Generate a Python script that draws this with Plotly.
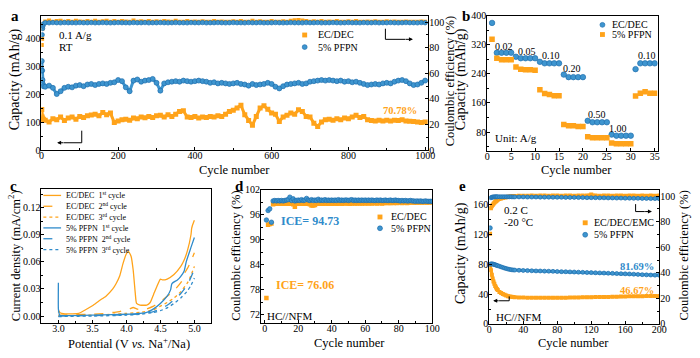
import plotly.graph_objects as go

# ---------------- data ----------------
# panel a (cycles sampled every 10 plus the first five)
cyc_a = [1, 2, 3, 4, 5] + list(range(10, 1001, 10))
cap_a_ecdec = [145, 118, 112, 108, 110,
    106, 100, 112, 108, 118, 105, 114, 118, 110, 120,
    116, 122, 125, 128, 122, 134, 126, 132, 98, 104,
    108, 110, 106, 114, 112, 118, 115, 120, 116, 122,
    124, 118, 126, 120, 128, 138, 140, 118, 116, 120,
    114, 118, 116, 120, 118, 122, 120, 128, 138, 142,
    150, 160, 126, 105, 88, 120, 150, 158, 146, 132,
    128, 102, 118, 124, 132, 128, 144, 138, 120, 118,
    96, 84, 100, 108, 110, 106, 112, 108, 114, 112,
    118, 124, 116, 120, 108, 105, 104, 106, 104, 106,
    104, 106, 105, 108, 104, 103, 102, 100, 98, 100]
cap_a_pfpn = [318, 284, 250, 235, 228,
    226, 230, 222, 200, 210, 222, 226, 224, 230, 232,
    228, 234, 236, 232, 236, 238, 236, 240, 242, 250,
    246, 224, 210, 248, 252, 244, 248, 250, 254, 240,
    212, 238, 242, 244, 246, 244, 248, 246, 244, 246,
    248, 246, 244, 240, 242, 238, 240, 238, 236, 238,
    240, 236, 234, 230, 236, 232, 234, 236, 240, 236,
    226, 220, 228, 234, 236, 238, 240, 236, 238, 244,
    246, 248, 250, 248, 250, 248, 246, 248, 244, 246,
    242, 244, 240, 236, 232, 234, 236, 234, 238, 240,
    238, 244, 248, 250, 246, 238, 232, 234, 240, 248]
ce_a_ecdec = [82, 87, 95, 97.5, 98.5,
    100.4, 101.2, 100.2, 100.8, 101.0, 100.3, 100.9, 100.2, 101.1, 100.5,
    100.2, 100.9, 100.3, 101.0, 100.2, 100.6, 101.1, 100.3, 100.8, 100.2,
    100.9, 100.4, 100.2, 101.2, 100.3, 100.7, 100.2, 100.9, 100.3, 100.6,
    100.2, 100.9, 100.4, 100.2, 101.0, 100.3, 100.2, 100.8, 100.3, 100.5,
    100.2, 100.7, 100.3, 100.2, 100.9, 100.2, 100.4, 100.3, 100.2, 100.6,
    100.2, 100.8, 100.3, 100.2, 101.0, 100.2, 100.6, 100.3, 100.2, 100.9,
    100.3, 100.2, 100.7, 100.3, 101.0, 101.4, 101.6, 101.2, 100.8, 100.3,
    100.6, 100.2, 100.9, 100.3, 100.5, 100.2, 100.8, 100.3, 100.2, 100.6,
    100.2, 100.9, 100.3, 100.2, 100.5, 100.2, 100.7, 100.2, 100.3, 100.6,
    100.2, 100.4, 100.2, 100.3, 100.5, 100.2, 100.3, 100.2, 100.4, 100.2]
ce_a_pfpn = [62, 90, 95, 97, 98.5,
    99.5, 99.4, 99.6, 99.5, 99.4, 99.6, 99.5, 99.5, 99.4, 99.6,
    99.5, 99.5, 99.6, 99.4, 99.5, 99.6, 99.5, 99.4, 99.5, 99.6,
    99.5, 99.5, 99.4, 99.6, 99.5, 99.5, 99.6, 99.4, 99.5, 99.5,
    99.6, 99.5, 99.4, 99.5, 99.6, 99.5, 99.5, 99.4, 99.6, 99.5,
    99.5, 99.6, 99.4, 99.5, 99.5, 99.6, 99.5, 99.4, 99.5, 99.6,
    99.5, 99.5, 99.4, 99.6, 99.5, 99.5, 99.6, 99.4, 99.5, 99.5,
    99.6, 99.5, 99.4, 99.5, 99.6, 99.5, 99.5, 99.4, 99.6, 99.5,
    99.5, 99.6, 99.4, 99.5, 99.5, 99.6, 99.5, 99.4, 99.5, 99.6,
    99.5, 99.5, 99.4, 99.6, 99.5, 99.5, 99.6, 99.4, 99.5, 99.5,
    99.6, 99.5, 99.4, 99.5, 99.6, 99.5, 99.5, 99.4, 99.6, 99.5]

# panel b (rate)
cyc_b = list(range(1, 36))
rate_b_ecdec = [380, 298, 298, 298, 298, 287, 283, 283, 283, 283,
    273, 269, 269, 269, 269, 238, 231, 231, 231, 231,
    111, 107, 107, 107, 107, 73, 70, 70, 70, 70,
    253, 269, 269, 269, 269]
rate_b_pfpn = [335, 283, 279, 279, 279, 259, 253, 251, 251, 250,
    196, 186, 183, 180, 180, 101, 97, 97, 95, 95,
    67, 64, 64, 64, 64, 50, 48, 48, 48, 48,
    179, 187, 191, 187, 187]
rate_labels = ["0.02", "0.05", "0.10", "0.20", "0.50", "1.00", "0.10"]
rate_label_x = [3.5, 8.3, 13.3, 17.8, 22.9, 27.4, 33.4]
rate_label_y = [316, 302, 291, 254, 128, 91, 291]

# panel c (LSV)
v_ec1 = [3.0, 3.005, 3.02, 3.05, 3.1, 3.2, 3.3, 3.4, 3.5, 3.6, 3.7, 3.8, 3.85, 3.9, 3.95, 4.0, 4.03,
         4.07, 4.1, 4.13, 4.15, 4.2, 4.3, 4.35, 4.4, 4.45, 4.5, 4.53, 4.6, 4.7, 4.8, 4.85, 4.9,
         4.95, 4.96, 4.97, 5.0]
j_ec1 = [0.004, 0.006, 0.004, 0.003, 0.0025, 0.0025, 0.003, 0.007, 0.0115, 0.017, 0.022, 0.030, 0.036,
         0.044, 0.058, 0.069, 0.0715, 0.066, 0.051, 0.026, 0.014, 0.0122, 0.0122, 0.015, 0.024, 0.033,
         0.041, 0.040, 0.041, 0.046, 0.055, 0.062, 0.073, 0.090, 0.097, 0.100, 0.106]
v_ec2 = [3.0, 3.2, 3.5, 3.7, 3.8, 3.9, 4.0, 4.05, 4.1, 4.15, 4.2, 4.3, 4.4, 4.5, 4.6, 4.7, 4.8, 4.85,
         4.86, 4.9, 4.95, 5.0]
j_ec2 = [0.001, 0.0015, 0.002, 0.003, 0.004, 0.005, 0.007, 0.008, 0.0095, 0.008, 0.007, 0.008, 0.011,
         0.016, 0.022, 0.028, 0.037, 0.043, 0.048, 0.053, 0.061, 0.070]
v_ec3 = [3.0, 3.2, 3.5, 3.8, 4.0, 4.2, 4.4, 4.5, 4.6, 4.7, 4.8, 4.9, 4.95, 5.0]
j_ec3 = [0.0, 0.0005, 0.001, 0.002, 0.003, 0.004, 0.007, 0.011, 0.015, 0.020, 0.027, 0.037, 0.045, 0.055]
v_pf1 = [3.0, 3.0, 3.01, 3.02, 3.05, 3.2, 3.5, 3.8, 4.0, 4.2, 4.3, 4.4, 4.5, 4.6, 4.65, 4.67, 4.75,
         4.8, 4.85, 4.88, 4.95, 5.0]
j_pf1 = [0.037, 0.008, 0.003, 0.001, 0.0005, 0.0005, 0.001, 0.0015, 0.002, 0.003, 0.004, 0.008, 0.014,
         0.022, 0.029, 0.036, 0.040, 0.044, 0.050, 0.060, 0.076, 0.087]
v_pf2 = [3.0, 3.5, 4.0, 4.2, 4.4, 4.5, 4.6, 4.7, 4.8, 4.9, 4.95, 5.0]
j_pf2 = [0.0, 0.0005, 0.0015, 0.0025, 0.005, 0.008, 0.012, 0.018, 0.025, 0.035, 0.043, 0.052]
v_pf3 = [3.0, 3.5, 4.0, 4.2, 4.4, 4.5, 4.6, 4.7, 4.8, 4.9, 4.95, 5.0]
j_pf3 = [-0.0005, 0.0, 0.001, 0.002, 0.004, 0.006, 0.009, 0.014, 0.020, 0.028, 0.034, 0.042]

# panel d (full cell CE)
cyc_d = list(range(1, 101))
ce_d_ecdec = [76.06, 93.6, 93.8, 93.9, 98.5, 98.6, 98.7, 98.6, 98.7, 98.6,
    98.7, 98.6, 98.7, 98.6, 98.7, 98.6, 98.5, 97.9, 98.6, 98.7,
    98.6, 98.7, 98.6, 98.7, 98.6, 98.7, 98.5, 98.2, 98.2, 98.3,
    98.6, 98.7, 98.6, 98.7, 98.6, 98.7, 98.7, 98.6, 98.7, 98.6,
    98.7, 98.7, 98.6, 98.7, 98.7, 98.6, 98.7, 98.8, 98.7, 98.7,
    98.6, 98.7, 98.8, 98.7, 98.7, 98.8, 98.7, 98.7, 98.8, 98.7,
    98.8, 98.7, 98.8, 98.7, 98.8, 98.8, 98.7, 98.8, 98.8, 98.7,
    98.8, 98.8, 98.9, 98.8, 98.8, 98.9, 98.8, 98.9, 98.8, 98.9,
    98.9, 98.8, 98.9, 98.9, 98.8, 98.9, 98.9, 99.0, 98.9, 98.9,
    99.0, 98.9, 99.0, 98.9, 99.0, 99.0, 98.9, 99.0, 99.0, 99.0]
ce_d_pfpn = [94.73, 97.0, 97.4, 94.2, 99.3, 99.4, 99.3, 99.4, 99.3, 99.4,
    99.3, 99.4, 99.5, 99.6, 100.2, 99.4, 99.8, 99.3, 99.4, 99.5,
    99.4, 99.6, 99.4, 99.5, 99.9, 99.5, 99.4, 99.6, 99.4, 99.5,
    99.4, 99.7, 99.4, 99.5, 99.4, 99.6, 99.4, 99.5, 99.4, 99.5,
    99.4, 99.5, 99.4, 99.6, 99.4, 99.5, 99.4, 99.5, 99.5, 99.4,
    99.5, 99.6, 99.4, 99.5, 99.4, 99.5, 99.4, 99.5, 99.4, 99.5,
    99.4, 99.5, 99.4, 99.5, 99.4, 99.4, 99.5, 99.4, 99.5, 99.4,
    99.4, 99.5, 99.4, 99.4, 99.5, 99.4, 99.4, 99.5, 99.4, 99.4,
    99.3, 99.4, 99.3, 99.4, 99.3, 99.3, 99.4, 99.3, 99.3, 99.2,
    99.3, 99.2, 99.3, 99.2, 99.2, 99.3, 99.2, 99.2, 99.2, 99.2]

# panel e (-20 C full cell)
cyc_e = [1, 2, 3, 4, 5, 6, 7, 8, 9, 10, 12, 14, 16, 18, 20, 22, 24, 26, 28, 30] + list(range(35, 201, 5))
cap_e_ecdec = [80, 72, 66, 61, 57, 54, 51, 49, 47, 45.5, 43, 41.5, 40, 39, 38, 37.3, 36.8, 36.4, 36.1, 35.9,
    35.6, 35.4, 35.3, 35.2, 35.2, 35.1, 35.1, 35.1, 35.2, 35.2, 35.3, 35.3, 35.4, 35.5, 35.6, 35.7,
    35.8, 35.9, 36.0, 36.1, 36.2, 36.3, 36.5, 36.6, 36.7, 36.8, 37.0, 37.1, 37.2, 37.3, 37.4, 37.5,
    37.5, 37.4]
cap_e_pfpn = [80, 80.5, 80.5, 80.3, 80, 79.7, 79.3, 78.9, 78.5, 78.1, 77.3, 76.5, 75.7, 74.9, 74.2, 73.6,
    73.1, 72.7, 72.4, 72.2, 71.9, 71.7, 71.5, 71.3, 71.1, 71.0, 70.8, 70.7, 70.5, 70.3, 70.1, 70.0,
    69.8, 69.6, 69.4, 69.2, 69.0, 68.8, 68.6, 68.4, 68.2, 68.0, 67.8, 67.6, 67.4, 67.2, 67.0, 66.7,
    66.4, 66.1, 65.8, 65.6, 65.4, 65.3]
ce_e_ecdec = [70.5, 90.5, 92, 93, 94, 94.8, 95.5, 96, 96.5, 97, 97.6, 98.1, 98.5, 98.8, 99.1, 99.4, 99.6,
    99.8, 100, 100.1, 100.2, 100.3, 100.3, 100.4, 100.3, 100.4, 100.4, 100.3, 100.4, 100.4, 100.3,
    100.4, 100.4, 100.3, 100.4, 100.5, 100.4, 101.2, 100.4, 100.3, 100.4, 100.4, 100.3, 100.4,
    100.4, 100.3, 100.4, 100.4, 100.3, 100.4, 100.3, 100.4, 100.3, 100.4]
ce_e_pfpn = [75, 98.6, 99.0, 99.2, 99.3, 99.3, 99.4, 99.4, 99.4, 99.4, 99.4, 99.4, 99.4, 99.4, 99.4, 99.4,
    99.4, 99.4, 99.3, 99.3, 99.3, 99.3, 99.2, 99.2, 99.2, 99.1, 99.1, 99.1, 99.0, 99.0, 99.0, 98.9,
    98.9, 98.9, 98.8, 98.8, 98.7, 98.7, 98.7, 98.6, 98.6, 98.5, 98.5, 98.4, 98.4, 98.3, 98.3, 98.2,
    98.2, 98.1, 98.1, 98.0, 98.0, 97.9]

# ---------------- style ----------------
W, H = 700, 358
FONT = "Liberation Serif, Times New Roman, DejaVu Serif, serif"
ORANGE = "#FFA31A"
BLUE = "#3E95CF"
BLUE_EDGE = "#1F6FAE"
BLUE_LINE = "#2F8BCB"


def px(x):
    return x / W


def py(y):
    return 1 - y / H


def sq(size):
    return dict(symbol="square", size=size, color=ORANGE, line=dict(width=0))


def ci(size):
    return dict(symbol="circle", size=size, color=BLUE, line=dict(width=0.7, color=BLUE_EDGE))


fig = go.Figure()

# panel a
fig.add_trace(go.Scatter(x=cyc_a, y=cap_a_ecdec, mode="lines+markers", marker=sq(5),
                         line=dict(color=ORANGE, width=3), xaxis="x", yaxis="y"))
fig.add_trace(go.Scatter(x=cyc_a, y=cap_a_pfpn, mode="lines+markers", marker=ci(5),
                         line=dict(color=BLUE, width=3), xaxis="x", yaxis="y"))
fig.add_trace(go.Scatter(x=cyc_a, y=ce_a_ecdec, mode="markers", marker=sq(4), xaxis="x", yaxis="y2"))
fig.add_trace(go.Scatter(x=cyc_a, y=ce_a_pfpn, mode="markers", marker=ci(4.5), xaxis="x", yaxis="y2"))

# panel b
fig.add_trace(go.Scatter(x=cyc_b, y=rate_b_ecdec, mode="markers", marker=ci(5.5), xaxis="x3", yaxis="y3"))
fig.add_trace(go.Scatter(x=cyc_b, y=rate_b_pfpn, mode="markers", marker=sq(5.5), xaxis="x3", yaxis="y3"))

# panel c
for v, j, col, dash in [(v_ec1, j_ec1, ORANGE, "solid"), (v_ec2, j_ec2, ORANGE, "dash"),
                        (v_ec3, j_ec3, ORANGE, "dot"), (v_pf1, j_pf1, BLUE_LINE, "solid"),
                        (v_pf2, j_pf2, BLUE_LINE, "dash"), (v_pf3, j_pf3, BLUE_LINE, "dot")]:
    fig.add_trace(go.Scatter(x=v, y=j, mode="lines", line=dict(color=col, width=1.3, dash=dash,
                                                                 shape="spline", smoothing=0.5),
                             xaxis="x4", yaxis="y4"))

# panel d
fig.add_trace(go.Scatter(x=cyc_d, y=ce_d_ecdec, mode="markers", marker=sq(4.5), xaxis="x5", yaxis="y5"))
fig.add_trace(go.Scatter(x=cyc_d, y=ce_d_pfpn, mode="markers", marker=ci(4.5), xaxis="x5", yaxis="y5"))

# panel e
fig.add_trace(go.Scatter(x=cyc_e, y=cap_e_ecdec, mode="lines+markers", marker=sq(4),
                         line=dict(color=ORANGE, width=3), xaxis="x6", yaxis="y6"))
fig.add_trace(go.Scatter(x=cyc_e, y=cap_e_pfpn, mode="lines+markers", marker=ci(4),
                         line=dict(color=BLUE, width=3), xaxis="x6", yaxis="y6"))
fig.add_trace(go.Scatter(x=cyc_e[:1], y=ce_e_ecdec[:1], mode="markers", marker=sq(4), xaxis="x6", yaxis="y7"))
fig.add_trace(go.Scatter(x=cyc_e[1:], y=ce_e_ecdec[1:], mode="lines+markers", marker=sq(4),
                         line=dict(color=ORANGE, width=3), xaxis="x6", yaxis="y7"))
fig.add_trace(go.Scatter(x=cyc_e[:1], y=ce_e_pfpn[:1], mode="markers", marker=ci(4.5), xaxis="x6", yaxis="y7"))
fig.add_trace(go.Scatter(x=cyc_e[1:], y=ce_e_pfpn[1:], mode="lines+markers", marker=ci(4),
                         line=dict(color=BLUE, width=3), xaxis="x6", yaxis="y7"))


def ax(domain, rng, tickvals, anchor, fmt=None, minor=None, side=None, overlay=None, is_x=False):
    d = dict(domain=domain, range=rng, tickvals=tickvals, anchor=anchor,
             showline=True, linecolor="black", linewidth=1, mirror=True,
             ticks="inside", ticklen=3, tickcolor="black", showgrid=False, zeroline=False,
             ticklabelstandoff=-4 if is_x else -2,
             tickfont=dict(family=FONT, size=10, color="black"))
    if fmt:
        d["tickformat"] = fmt
    if minor:
        d["minor"] = dict(dtick=minor, ticks="inside", ticklen=2, tickcolor="black", showgrid=False)
    if side:
        d["side"] = side
    if overlay:
        d["overlaying"] = overlay
        d.pop("domain")
        d["mirror"] = False
    return d


a_x = [px(39), px(432)]
a_y = [py(149), py(10)]
b_x = [px(492), px(665)]
b_y = [py(150), py(10)]
c_x = [px(39), px(211.7)]
c_y = [py(328.3), py(189)]
d_x = [px(262), px(436)]
d_y = [py(328.3), py(190)]
e_x = [px(494), px(666.7)]
e_y = [py(329), py(190)]

fig.update_layout(
    width=W, height=H, margin=dict(l=0, r=0, t=0, b=0),
    paper_bgcolor="white", plot_bgcolor="white", showlegend=False,
    font=dict(family=FONT, color="black"),
    xaxis=ax(a_x, [0, 1008], [0, 200, 400, 600, 800, 1000], "y", minor=100, is_x=True),
    yaxis=ax(a_y, [0, 480], [0, 100, 200, 300, 400], "x", minor=50),
    yaxis2=ax(None, [0, 105], [0, 20, 40, 60, 80, 100], "x", side="right", overlay="y", minor=10),
    xaxis3=ax(b_x, [0, 35.6], [0, 5, 10, 15, 20, 25, 30, 35], "y3", is_x=True),
    yaxis3=ax(b_y, [28, 400], [80, 160, 240, 320, 400], "x3", minor=40),
    xaxis4=ax(c_x, [2.75, 5.25], [3.0, 3.5, 4.0, 4.5, 5.0], "y4", fmt=".1f", minor=0.25, is_x=True),
    yaxis4=ax(c_y, [-0.008, 0.141], [0, 0.03, 0.06, 0.09, 0.12], "x4", fmt=".2f", minor=0.015),
    xaxis5=ax(d_x, [-2.3, 100], [0, 20, 40, 60, 80, 100], "y5", minor=10, is_x=True),
    yaxis5=ax(d_y, [70, 102], [72, 78, 84, 90, 96, 102], "x5", minor=3),
    xaxis6=ax(e_x, [0, 200], [0, 40, 80, 120, 160, 200], "y6", minor=20, is_x=True),
    yaxis6=ax(e_y, [0, 180], [0, 40, 80, 120, 160], "x6", minor=20),
    yaxis7=ax(None, [0, 105], [0, 20, 40, 60, 80, 100], "x6", side="right", overlay="y6", minor=10),
)

ann = []
shapes = []


def text(x, y, s, size=10.5, color="black", xanchor="left", bold=False, angle=0):
    if bold:
        s = "<b>" + s + "</b>"
    ann.append(dict(x=px(x), y=py(y), xref="paper", yref="paper", text=s, showarrow=False,
                    xanchor=xanchor, yanchor="middle", textangle=angle,
                    font=dict(family=FONT, size=size, color=color)))


def leg_sq(x, y, s=5):
    shapes.append(dict(type="rect", xref="paper", yref="paper", x0=px(x - s / 2), x1=px(x + s / 2),
                       y0=py(y + s / 2), y1=py(y - s / 2), fillcolor=ORANGE, line=dict(width=0)))


def leg_ci(x, y, s=5):
    shapes.append(dict(type="circle", xref="paper", yref="paper", x0=px(x - s / 2), x1=px(x + s / 2),
                       y0=py(y + s / 2), y1=py(y - s / 2), fillcolor=BLUE,
                       line=dict(width=0.7, color=BLUE_EDGE)))


def seg(x0, y0, x1, y1, color="black", width=1, dash="solid"):
    shapes.append(dict(type="line", xref="paper", yref="paper", x0=px(x0), y0=py(y0), x1=px(x1), y1=py(y1),
                       line=dict(color=color, width=width, dash=dash)))


def arrow(xtail, ytail, xhead, yhead):
    ann.append(dict(x=px(xhead), y=py(yhead), xref="paper", yref="paper", ax=xtail - xhead, ay=ytail - yhead,
                    axref="pixel", ayref="pixel", text="", showarrow=True, arrowhead=2, arrowsize=0.8,
                    arrowwidth=1, arrowcolor="black"))


# axis titles
TS = 12.5
CS = 14
text(13, 76, "Capacity (mAh/g)", size=CS, xanchor="center", angle=-90)
text(455, 78, "Coulombic efficiency (%)", size=TS, xanchor="center", angle=-90)
text(235, 170, "Cycle number", size=TS, xanchor="center")
text(466, 76, "Capacity (mAh/g)", size=CS, xanchor="center", angle=-90)
text(583, 170, "Cycle number", size=TS, xanchor="center")
text(12, 258, "Current density (mA/cm<sup>2</sup>)", size=TS, xanchor="center", angle=-90)
text(128, 349, "Potential (V <i>vs.</i> Na<sup>+</sup>/Na)", size=TS, xanchor="center")
text(237, 258, "Coulombic efficiency (%)", size=TS, xanchor="center", angle=-90)
text(352, 349, "Cycle number", size=TS, xanchor="center")
text(466, 256, "Capacity (mAh/g)", size=CS, xanchor="center", angle=-90)
text(692, 258, "Coulombic efficiency (%)", size=TS, xanchor="center", angle=-90)
text(580, 349, "Cycle number", size=TS, xanchor="center")

# panel labels
for lab, x, y in [("a", 12, 10), ("b", 470, 10), ("c", 11, 186), ("d", 240, 186), ("e", 467, 186)]:
    text(x, y, lab, size=15, xanchor="center", bold=True)

# panel a texts
text(55, 29.5, "0.1 A/g", size=11)
text(55, 42.5, "RT", size=11)
leg_sq(306.5, 30)
leg_ci(306.5, 42.5)
text(318, 30, "EC/DEC", size=10)
text(318, 42.5, "5% PFPN", size=10)
text(403, 108.5, "70.78%", size=10.5, color=ORANGE, xanchor="center", bold=True)
seg(80, 129, 80, 141.5)
seg(80, 141.5, 62, 141.5)
arrow(63, 141.5, 55, 141.5)
seg(388.5, 23.5, 388.5, 34.5)
seg(388.5, 34.5, 409, 34.5)
arrow(408, 34.5, 416.5, 34.5)

# panel b texts
for s, xv, yv in zip(rate_labels, rate_label_x, rate_label_y):
    ann.append(dict(x=xv, y=yv, xref="x3", yref="y3", text=s, showarrow=False,
                    font=dict(family=FONT, size=10, color="black")))
text(498, 137, "Unit: A/g", size=11)
leg_ci(609, 19.5)
leg_sq(609, 29.5)
text(617, 19.5, "EC/DEC", size=10)
text(617, 29.5, "5% PFPN", size=10)

# panel c legend
c_leg = [("EC/DEC  1<sup>st</sup> cycle", ORANGE, "solid"), ("EC/DEC  2<sup>nd</sup> cycle", ORANGE, "dash"),
         ("EC/DEC  3<sup>rd</sup> cycle", ORANGE, "dot"), ("5% PFPN  1<sup>st</sup> cycle", BLUE_LINE, "solid"),
         ("5% PFPN  2<sup>nd</sup> cycle", BLUE_LINE, "dash"), ("5% PFPN  3<sup>rd</sup> cycle", BLUE_LINE, "dot")]
for i, (s, col, dsh) in enumerate(c_leg):
    yy = 196 + i * 11.2
    seg(41, yy, 59, yy, color=col, width=1.3, dash=dsh)
    text(62, yy, s, size=8)

# panel d texts
text(280, 222.7, "ICE= 94.73", size=12, color=BLUE_LINE, bold=True)
text(275, 288.3, "ICE= 76.06", size=12, color=ORANGE, bold=True)
text(266, 320.5, "HC//NFM", size=11)
leg_sq(383, 218.3)
leg_ci(383, 230)
text(392, 218.3, "EC/DEC", size=10)
text(392, 230, "5% PFPN", size=10)

# panel e texts
text(507, 211.5, "0.2 C", size=11)
text(507, 224, "-20 °C", size=11)
leg_sq(591.5, 224.3)
leg_ci(591.5, 236.7)
text(598, 224.3, "EC/DEC/EMC", size=10)
text(598, 236.7, "5% PFPN", size=10)
text(663.5, 269.3, "81.69%", size=10.5, color=BLUE_LINE, xanchor="right", bold=True)
text(663.5, 294, "46.67%", size=10.5, color=ORANGE, xanchor="right", bold=True)
text(499, 321.5, "HC//NFM", size=11)
seg(514.3, 300.5, 514.3, 305)
seg(514.3, 305, 504, 305)
arrow(505, 305, 498, 305)
seg(642.7, 205, 642.7, 212.7)
seg(642.7, 212.7, 652, 212.7)
arrow(651, 212.7, 659.3, 212.7)

fig.update_layout(annotations=ann, shapes=shapes)
fig.write_html("out.html", post_script="document.body.style.margin='0';",
               config={"displayModeBar": False})
